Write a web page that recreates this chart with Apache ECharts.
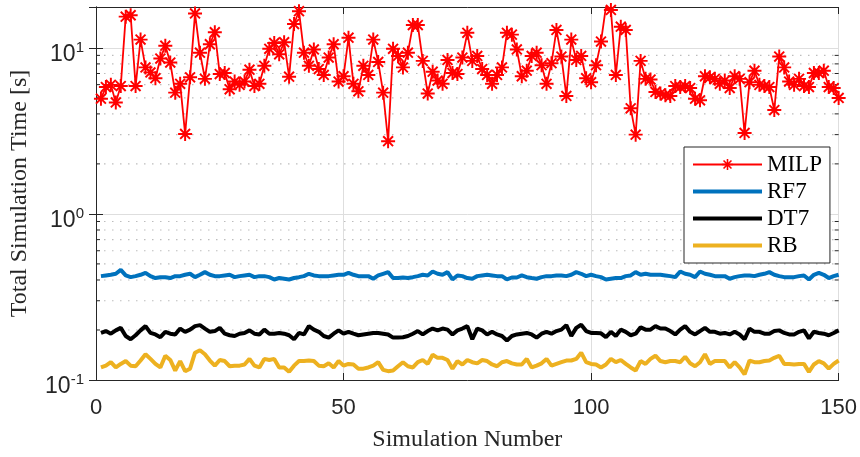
<!DOCTYPE html>
<html>
<head>
<meta charset="utf-8">
<script src="https://cdn.jsdelivr.net/npm/echarts@6/dist/echarts.min.js"></script>
<style>
  html, body { margin: 0; padding: 0; background: #fff; }
  #chart { width: 860px; height: 457px; }
</style>
</head>
<body>
<div id="chart"></div>
<script>
// total simulation time [s] per simulation number 1..150
const milp = [
  4.94, 5.80, 5.98, 4.69, 5.88, 15.4, 15.7, 5.88, 11.2, 7.62,
  7.11, 6.56, 8.61, 10.3, 8.15, 5.37, 6.07, 3.03, 6.64, 16.1,
  9.34, 6.50, 10.5, 12.4, 6.95, 7.05, 5.62, 6.26, 5.98, 6.26,
  7.38, 5.88, 6.07, 7.79, 9.86, 10.7, 9.14, 10.8, 6.70, 13.9,
  16.6, 9.34, 7.79, 9.77, 7.45, 6.86, 8.73, 10.5, 6.26, 6.74,
  11.5, 6.07, 5.47, 7.79, 6.86, 11.2, 8.22, 5.37, 2.74, 9.86,
  8.93, 7.62, 9.34, 13.7, 13.7, 8.34, 5.30, 7.18, 6.35, 6.07,
  8.45, 7.05, 6.95, 8.73, 12.3, 8.34, 8.93, 7.45, 6.86, 6.07,
  6.86, 7.62, 12.3, 12.0, 9.77, 6.74, 7.28, 8.93, 9.34, 7.86,
  6.07, 8.08, 12.8, 8.85, 5.13, 11.2, 8.45, 8.93, 6.56, 6.21,
  7.86, 10.9, 17.7, 16.9, 6.86, 13.4, 12.8, 4.32, 3.00, 8.34,
  6.50, 6.44, 5.42, 5.30, 5.18, 5.13, 5.88, 5.80, 5.88, 5.72,
  4.94, 4.83, 6.74, 6.64, 6.50, 6.07, 6.35, 5.72, 6.74, 6.50,
  3.07, 6.21, 7.28, 5.98, 5.88, 5.80, 4.22, 8.85, 7.62, 6.26,
  5.98, 6.50, 5.88, 5.80, 7.05, 7.05, 7.28, 5.80, 5.72, 4.99
];
const rf7 = [
  .422, .426, .430, .436, .460, .426, .416, .422, .430, .442,
  .422, .411, .416, .416, .411, .422, .422, .430, .436, .416,
  .430, .446, .430, .422, .422, .426, .430, .416, .422, .426,
  .430, .416, .422, .422, .416, .403, .411,
  .407, .403, .411, .416, .422, .436, .426, .422, .422, .422,
  .426, .430, .430, .442, .430, .422, .422, .422, .407, .426,
  .436, .446, .411, .411, .414, .411, .416, .422, .430, .426,
  .450, .436, .430, .446, .403, .426, .422, .411,
  .407, .422, .426, .430, .426, .422, .422, .403, .414, .414,
  .426, .416, .411, .407, .416, .422, .422, .426, .426, .422,
  .430, .446, .436, .422, .430, .422, .416, .403, .407, .411,
  .411, .422, .426, .446, .430, .436, .430, .430,
  .430, .426, .422, .416, .450, .436, .430, .416, .450, .436,
  .430, .422, .422, .422, .407, .416, .422, .426, .426, .422,
  .430, .436, .446, .430, .422, .416, .416, .416, .422, .426,
  .403, .430, .442, .430, .411, .422, .430
];
const dt7 = [
  .192, .197, .190, .199, .206, .184, .176, .186, .199, .211,
  .192, .188, .181, .195, .190, .188, .204, .195, .201, .211,
  .214, .204, .195, .197, .206, .190, .186, .184, .190, .192,
  .199, .190, .188, .201, .190, .190, .192,
  .190, .186, .176, .192, .188, .211, .201, .195, .184, .180,
  .190, .199, .190, .195, .190, .186, .188, .190, .192, .192,
  .190, .188, .180, .180, .181, .184, .190, .197, .188, .197,
  .204, .199, .204, .201, .188, .199, .204, .211,
  .176, .204, .199, .188, .195, .188, .184, .173, .184, .188,
  .190, .192, .188, .180, .190, .195, .190, .197, .201, .214,
  .184, .206, .215, .197, .192, .192, .191, .181, .195, .184,
  .201, .195, .186, .190, .208, .201, .201, .211,
  .204, .204, .197, .188, .201, .211, .195, .188, .197, .206,
  .195, .195, .190, .192, .188, .195, .188, .176, .204, .195,
  .195, .190, .190, .197, .199, .192, .188, .188, .195, .199,
  .178, .195, .192, .190, .186, .192, .199
];
const rb = [
  .119, .122, .128, .119, .125, .130, .122, .121, .131, .143,
  .134, .125, .119, .140, .132, .114, .130, .113, .117, .146,
  .151, .143, .131, .122, .132, .130, .121, .122, .122, .124,
  .134, .122, .119, .134, .132, .134, .119,
  .119, .112, .122, .130, .130, .131, .130, .122, .121, .126,
  .119, .130, .122, .125, .124, .117, .117, .119, .122, .128,
  .115, .113, .114, .121, .128, .121, .119, .128, .132, .125,
  .142, .136, .136, .132, .117, .130, .124, .132,
  .128, .126, .132, .130, .124, .121, .128, .130, .126, .124,
  .124, .134, .119, .122, .126, .134, .122, .125, .128, .131,
  .131, .134, .146, .128, .125, .124, .119, .124, .134, .128,
  .132, .125, .119, .114, .130, .125, .134, .140,
  .130, .128, .130, .130, .128, .138, .126, .121, .128, .143,
  .125, .130, .130, .130, .119, .128, .119, .108, .131, .128,
  .128, .130, .131, .136, .140, .125, .125, .124, .125, .125,
  .112, .124, .130, .126, .117, .125, .131
];
const xTicks = [0, 50, 100, 150];
const yRange = [0.1, 17.6];
const minorTicks = [0.2, 0.3, 0.4, 0.5, 0.6, 0.7, 0.8, 0.9, 2, 3, 4, 5, 6, 7, 8, 9];

const chart = echarts.init(document.getElementById('chart'));

const SANS = '"Liberation Sans", Arial, sans-serif';
const SERIF = '"Liberation Serif", "Times New Roman", serif';
const AXIS = '#262626';
const asterisk = 'path://M-1.4,-10L1.4,-10L1.4,10L-1.4,10Z M-10,-1.4L10,-1.4L10,1.4L-10,1.4Z ' +
  'M-6.08,-8.06L8.06,6.08L6.08,8.06L-8.06,-6.08Z M-8.06,6.08L6.08,-8.06L8.06,-6.08L-6.08,8.06Z';
const barIcon = 'path://M0,0L69,0L69,4L0,4Z';

const pts = arr => arr.map((v, i) => [i + 1, v]);

const option = {
  animation: false,
  backgroundColor: '#fff',
  grid: { left: 92, right: 18, top: 7, bottom: 69, containLabel: false },
  legend: {
    data: [
      { name: 'MILP' },
      { name: 'RF7', icon: barIcon },
      { name: 'DT7', icon: barIcon },
      { name: 'RB', icon: barIcon }
    ],
    orient: 'vertical',
    left: 684,
    top: 147,
    padding: [6, 8, 6, 8],
    itemWidth: 69,
    itemHeight: 14,
    itemGap: 4,
    backgroundColor: '#fff',
    borderColor: AXIS,
    borderWidth: 1,
    borderRadius: 0,
    textStyle: { fontFamily: SERIF, fontSize: 23, color: '#000', lineHeight: 22 }
  },
  xAxis: [{
    type: 'value',
    min: xTicks[0],
    max: xTicks[xTicks.length - 1],
    interval: 50,
    name: 'Simulation Number',
    nameLocation: 'middle',
    nameGap: 48,
    nameTextStyle: { fontFamily: SERIF, fontSize: 24, color: '#262626' },
    axisLine: { lineStyle: { color: AXIS, width: 1 } },
    axisTick: { inside: true, length: 7, lineStyle: { color: AXIS } },
    axisLabel: { fontFamily: SANS, fontSize: 22, color: '#262626', margin: 17 },
    splitLine: { show: true, lineStyle: { color: '#dedede', width: 1 } }
  }, {
    type: 'value',
    position: 'top',
    min: xTicks[0],
    max: xTicks[xTicks.length - 1],
    interval: 50,
    axisLine: { lineStyle: { color: AXIS, width: 1 } },
    axisTick: { inside: true, length: 7, lineStyle: { color: AXIS } },
    axisLabel: { show: false },
    splitLine: { show: false }
  }],
  yAxis: [{
    type: 'log',
    logBase: 10,
    min: yRange[0],
    max: yRange[1],
    name: 'Total Simulation Time [s]',
    nameLocation: 'middle',
    nameGap: 64,
    nameTextStyle: { fontFamily: SERIF, fontSize: 24, color: '#262626' },
    axisLine: { lineStyle: { color: AXIS, width: 1 } },
    axisTick: { inside: true, length: 7, lineStyle: { color: AXIS } },
    axisLabel: {
      margin: 12,
      showMaxLabel: false,
      formatter: v => '{a|10}{b|' + Math.round(Math.log10(v)) + '}',
      rich: {
        a: { fontFamily: SANS, fontSize: 23, color: '#262626', lineHeight: 26, verticalAlign: 'bottom' },
        b: { fontFamily: SANS, fontSize: 15, color: '#262626', lineHeight: 36, verticalAlign: 'middle' }
      }
    },
    splitLine: { show: true, lineStyle: { color: '#dedede', width: 1 } }
  }, {
    type: 'log',
    logBase: 10,
    position: 'right',
    min: yRange[0],
    max: yRange[1],
    axisLine: { lineStyle: { color: AXIS, width: 1 } },
    axisTick: { inside: true, length: 7, lineStyle: { color: AXIS } },
    axisLabel: { show: false },
    splitLine: { show: false }
  }],
  series: [
    {
      // minor log grid and minor ticks
      type: 'custom',
      name: 'minor',
      silent: true,
      z: 0,
      data: minorTicks.map(v => [0, v]),
      encode: { x: 0, y: 1 },
      renderItem: function (params, api) {
        const y = api.coord([0, api.value(1)])[1];
        const cs = params.coordSys;
        return {
          type: 'group',
          children: [
            { type: 'line', shape: { x1: cs.x, y1: y, x2: cs.x + cs.width, y2: y },
              style: { stroke: '#bdbdbd', lineWidth: 1.2, lineDash: [1.5, 6.5] } },
            { type: 'line', shape: { x1: cs.x, y1: y, x2: cs.x + 4, y2: y },
              style: { stroke: AXIS, lineWidth: 1 } },
            { type: 'line', shape: { x1: cs.x + cs.width - 4, y1: y, x2: cs.x + cs.width, y2: y },
              style: { stroke: AXIS, lineWidth: 1 } }
          ]
        };
      }
    },
    {
      name: 'MILP', type: 'line', data: pts(milp),
      symbol: asterisk, symbolSize: 14, showSymbol: true,
      color: '#ff0000',
      itemStyle: { color: '#ff0000' },
      lineStyle: { color: '#ff0000', width: 1.8 },
      z: 4
    },
    {
      name: 'RF7', type: 'line', data: pts(rf7), symbol: 'none',
      color: '#0072bd', lineStyle: { color: '#0072bd', width: 4 }, z: 3
    },
    {
      name: 'DT7', type: 'line', data: pts(dt7), symbol: 'none',
      color: '#000000', lineStyle: { color: '#000000', width: 4 }, z: 3
    },
    {
      name: 'RB', type: 'line', data: pts(rb), symbol: 'none',
      color: '#edb120', lineStyle: { color: '#edb120', width: 4 }, z: 3
    }
  ]
};

chart.setOption(option);
</script>
</body>
</html>
